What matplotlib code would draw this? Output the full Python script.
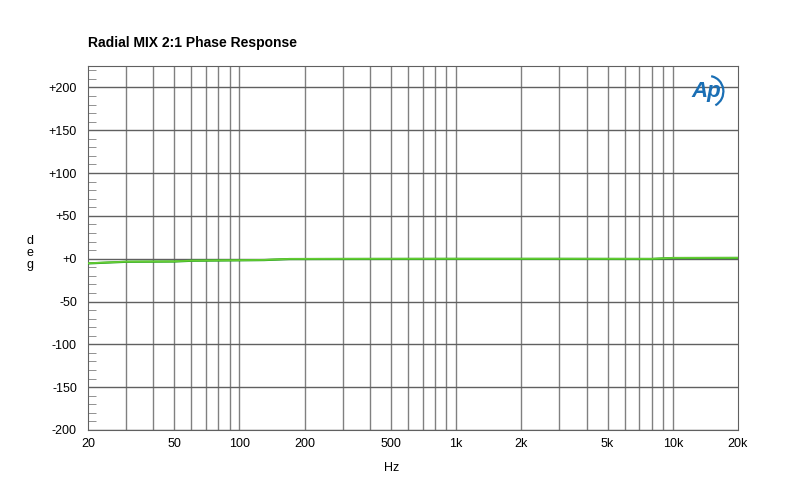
import numpy as np
import matplotlib
matplotlib.use('Agg')
import matplotlib.pyplot as plt
from matplotlib.patches import Arc

plt.rcParams['font.family'] = ['Liberation Sans', 'DejaVu Sans']

# datos
freq = [20, 30, 50, 60, 100, 130, 170, 300, 1000, 3000, 8000, 10000, 20000]
fase_a = [-5.5, -3.6, -3.3, -2.4, -1.9, -1.6, -0.4, -0.3, -0.2, -0.2, -0.3, 0.8, 0.9]
fase_b = [-5.3, -3.4, -3.1, -2.2, -1.7, -1.4, -0.2, -0.1, 0.0, 0.0, -0.1, 1.0, 1.1]

xticks = [20, 50, 100, 200, 500, 1000, 2000, 5000, 10000, 20000]
xtick_labels = ['20', '50', '100', '200', '500', '1k', '2k', '5k', '10k', '20k']
yticks = [-200, -150, -100, -50, 0, 50, 100, 150, 200]
ytick_labels = ['-200', '-150', '-100', '-50', '+0', '+50', '+100', '+150', '+200']

fig = plt.figure(figsize=(8, 5), dpi=100)
ax = fig.add_axes([0.11, 0.14, 0.8125, 0.728])

ax.set_xscale('log')
ax.set_xlim(20, 20000)
ax.set_ylim(-200, 225)

# rejilla vertical en cada frecuencia 1-2-3...
lineas_v = [f * d for d in (10, 100, 1000, 10000) for f in range(1, 10) if 20 < f * d < 20000]
for xv in lineas_v:
    ax.axvline(xv, color='#808080', lw=1.0, zorder=1)
for yv in yticks:
    ax.axhline(yv, color='#606060', lw=1.0, zorder=1)

ax.plot(freq, fase_a, color='#1f9e1f', lw=1.6, zorder=3)
ax.plot(freq, fase_b, color='#66cc33', lw=1.2, zorder=3)

ax.set_xticks(xticks)
ax.set_xticklabels(xtick_labels)
ax.xaxis.set_minor_locator(matplotlib.ticker.NullLocator())
ax.set_yticks(yticks)
ax.set_yticklabels(ytick_labels)
ax.set_yticks(np.arange(-200, 226, 10), minor=True)
ax.tick_params(axis='y', which='major', length=0, labelsize=9, pad=8)
ax.tick_params(axis='y', which='minor', direction='in', length=6, color='#808080')
ax.tick_params(axis='x', length=0, labelsize=9, pad=6)
for s in ax.spines.values():
    s.set_color('#606060')

fig.text(0.11, 0.905, 'Radial MIX 2:1 Phase Response', fontsize=10, fontweight='bold')
fig.text(0.037, 0.494, 'd\ne\ng', fontsize=9, ha='center', va='center', linespacing=1.0)
fig.text(0.489, 0.064, 'Hz', fontsize=9, ha='center', va='center')

# logo Ap
ax.text(0.952, 0.93, 'Ap', transform=ax.transAxes, fontsize=16, fontstyle='italic',
        fontweight='bold', color='#1a6fb5', ha='center', va='center', zorder=5)
ax.add_patch(Arc((0.955, 0.93), 0.045, 0.085, theta1=-75, theta2=85, transform=ax.transAxes,
                 color='#1a6fb5', lw=1.6, zorder=5))

fig.savefig('out.png', dpi=100)
